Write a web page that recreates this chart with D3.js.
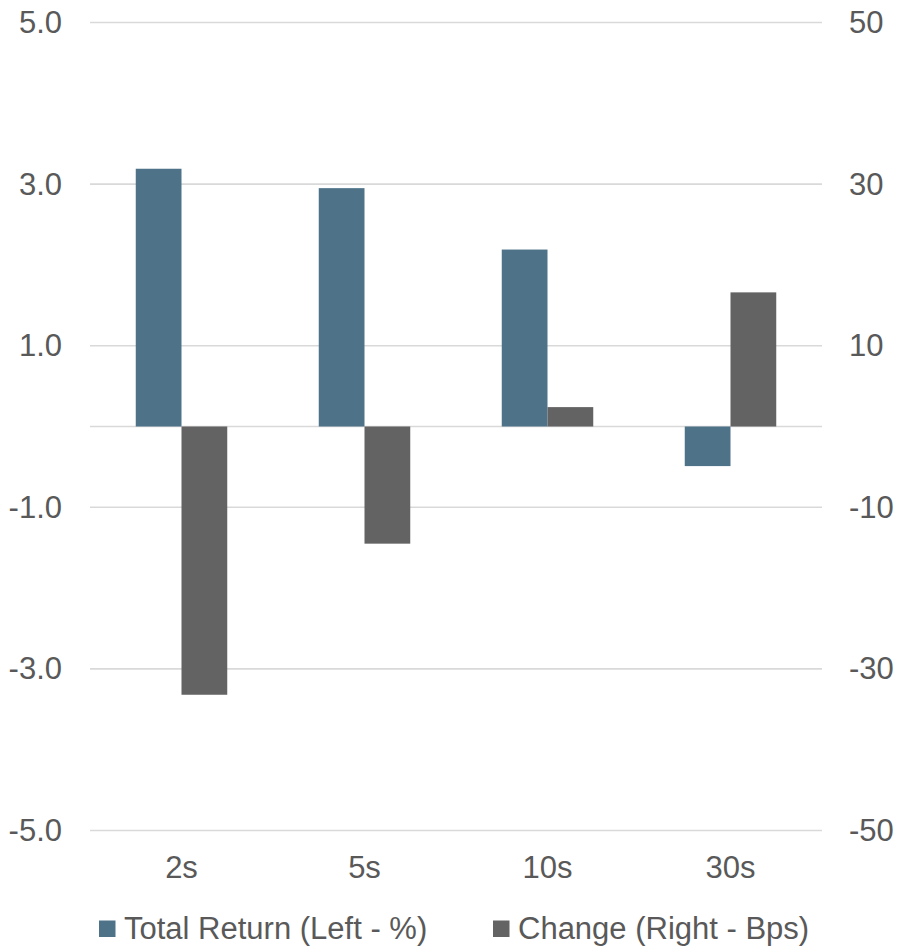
<!DOCTYPE html>
<html>
<head>
<meta charset="utf-8">
<script src="https://cdn.jsdelivr.net/npm/d3@7"></script>
<style>
  html, body { margin: 0; padding: 0; background: #ffffff; }
  svg { display: block; }
  text { font-family: "Liberation Sans", Arial, sans-serif; fill: #595959; }
</style>
</head>
<body>
<svg id="chart" width="898" height="946"></svg>
<script>
// Tenors along the curve
const categories = ["2s", "5s", "10s", "30s"];
// Total return, percent (left axis)
const totalReturn = [3.19, 2.95, 2.19, -0.49];
// Yield change, basis points (right axis)
const changeBps = [-33.2, -14.5, 2.4, 16.6];
// Axis tick values
const leftTicks = [5, 3, 1, -1, -3, -5];
const rightTicks = [50, 30, 10, -10, -30, -50];
const seriesNames = ["Total Return (Left - %)", "Change (Right - Bps)"];
const seriesColors = ["#4e7389", "#636363"];

const svg = d3.select("#chart");
const plot = { left: 90, right: 822, top: 22.5, bottom: 830.5 };
const fontSize = 31;

// Plain hyphen-minus for negative tick labels
const fmtLeft = d => d3.format(".1f")(d).replace("\u2212", "-");
const fmtRight = d => d3.format("d")(d).replace("\u2212", "-");

const x = d3.scaleBand().domain(categories).range([plot.left, plot.right]).padding(0);
const bw = x.bandwidth();
const xSub = d3.scaleBand().domain([0, 1]).range([bw / 4, bw * 3 / 4]).padding(0);

const yL = d3.scaleLinear().domain([-5, 5]).range([plot.bottom, plot.top]);
const yR = d3.scaleLinear().domain([-50, 50]).range([plot.bottom, plot.top]);

// Horizontal gridlines plus the zero baseline
const gridVals = leftTicks.concat([0]);
svg.append("g").selectAll("line").data(gridVals).join("line")
  .attr("x1", plot.left).attr("x2", plot.right)
  .attr("y1", d => yL(d)).attr("y2", d => yL(d))
  .attr("stroke", "#d9d9d9").attr("stroke-width", 1.6);

// Left axis labels
const leftAxis = d3.axisLeft(yL).tickValues(leftTicks).tickFormat(fmtLeft).tickSize(0).tickPadding(28);
const gL = svg.append("g").attr("transform", `translate(${plot.left},0)`).call(leftAxis);
gL.select(".domain").remove();
gL.selectAll("text").attr("font-size", fontSize).attr("fill", "#595959")
  .style("font-family", '"Liberation Sans", Arial, sans-serif');

// Right axis labels
const rightAxis = d3.axisRight(yR).tickValues(rightTicks).tickFormat(fmtRight).tickSize(0).tickPadding(27);
const gR = svg.append("g").attr("transform", `translate(${plot.right},0)`).call(rightAxis);
gR.select(".domain").remove();
gR.selectAll("text").attr("font-size", fontSize).attr("fill", "#595959")
  .style("font-family", '"Liberation Sans", Arial, sans-serif');

// Category axis labels
const bottomAxis = d3.axisBottom(x).tickSize(0).tickPadding(0);
const gB = svg.append("g").attr("transform", `translate(0,${plot.bottom})`).call(bottomAxis);
gB.select(".domain").remove();
gB.selectAll("text").attr("font-size", fontSize).attr("fill", "#595959")
  .attr("dy", null).attr("y", 47.5)
  .style("font-family", '"Liberation Sans", Arial, sans-serif');

// Total return bars (left scale)
svg.append("g").selectAll("rect").data(categories).join("rect")
  .attr("x", (d) => x(d) + xSub(0))
  .attr("width", xSub.bandwidth())
  .attr("y", (d, i) => yL(Math.max(0, totalReturn[i])))
  .attr("height", (d, i) => Math.abs(yL(totalReturn[i]) - yL(0)))
  .attr("fill", seriesColors[0]);

// Yield change bars (right scale)
svg.append("g").selectAll("rect").data(categories).join("rect")
  .attr("x", (d) => x(d) + xSub(1))
  .attr("width", xSub.bandwidth())
  .attr("y", (d, i) => yR(Math.max(0, changeBps[i])))
  .attr("height", (d, i) => Math.abs(yR(changeBps[i]) - yR(0)))
  .attr("fill", seriesColors[1]);

// Legend
const legendItems = [
  { name: seriesNames[0], color: seriesColors[0], x: 99 },
  { name: seriesNames[1], color: seriesColors[1], x: 493 }
];
const lg = svg.append("g");
legendItems.forEach(item => {
  lg.append("rect").attr("x", item.x).attr("y", 920.5).attr("width", 16.5).attr("height", 16.5)
    .attr("fill", item.color);
  lg.append("text").attr("x", item.x + 25).attr("y", 938.5)
    .attr("font-size", fontSize).text(item.name);
});
</script>
</body>
</html>
